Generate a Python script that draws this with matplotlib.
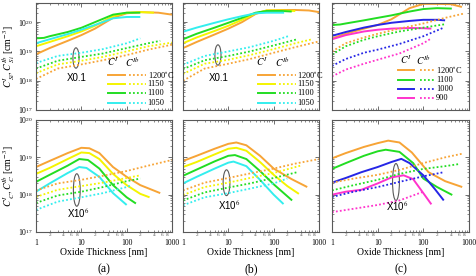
import matplotlib.pyplot as plt
import numpy as np
from matplotlib.patches import Ellipse
from matplotlib.ticker import LogLocator, NullFormatter, FuncFormatter

plt.rcParams['font.family'] = ['Liberation Serif', 'DejaVu Serif']
plt.rcParams['mathtext.fontset'] = 'stix'

ORANGE = '#f7a436'
YELLOW = '#f4f400'
GREEN = '#22dd22'
CYAN = '#33eeee'
BLUE = '#2626e6'
MAGENTA = '#ff33cc'

# ---- top row: C^I_Si (solid) and C^Ib_Si x0.1 (dotted) ----
a_top_labels = ['1200$^{\\circ}$C', '1150', '1100', '1050']
a_top_colors = [ORANGE, YELLOW, GREEN, CYAN]
a_top_I_x = [
    [1, 2, 5, 10, 20, 50, 100, 200, 500, 1000],
    [1, 2, 5, 10, 20, 50, 100, 200, 400],
    [1, 1.5, 2, 5, 10, 20, 50, 100, 200],
    [1, 2, 5, 10, 20, 50, 100, 200],
]
a_top_I_y = [
    [8e18, 1.3e19, 2.3e19, 3.6e19, 6e19, 1.4e20, 2.0e20, 2.2e20, 2.1e20, 1.8e20],
    [1.5e19, 2.1e19, 3.3e19, 4.8e19, 7.5e19, 1.6e20, 2.1e20, 2.2e20, 2.1e20],
    [2.8e19, 2.9e19, 3.3e19, 4.6e19, 6.4e19, 1.0e20, 1.8e20, 2.1e20, 2.1e20],
    [1.9e19, 2.6e19, 3.9e19, 5.5e19, 8e19, 1.35e20, 1.5e20, 1.5e20],
]
a_top_Ib_x = [
    [1, 3, 10, 30, 100, 300, 1000],
    [1, 3, 10, 30, 100, 300, 1000],
    [1, 3, 10, 30, 100, 300, 550],
    [1, 3, 10, 30, 100, 200],
]
a_top_Ib_y = [
    [1.15e18, 2.6e18, 3.6e18, 5e18, 7.5e18, 1.15e19, 1.7e19],
    [1.8e18, 3.6e18, 4.8e18, 6.5e18, 1e19, 1.5e19, 2e19],
    [2.6e18, 4.8e18, 6.5e18, 8.5e18, 1.3e19, 1.9e19, 2.3e19],
    [4e18, 7e18, 9e18, 1.2e19, 1.9e19, 2.8e19],
]

b_top_labels = ['1200$^{\\circ}$C', '1150', '1100', '1050']
b_top_colors = [ORANGE, YELLOW, GREEN, CYAN]
b_top_I_x = [
    [1, 2, 5, 10, 20, 40, 70, 150, 300, 600, 1000],
    [1, 2, 5, 10, 20, 40, 70, 150, 300],
    [1, 2, 5, 10, 20, 40, 70, 150, 250],
    [1, 2, 5, 10, 20, 40, 70, 170],
]
b_top_I_y = [
    [1.3e19, 2.1e19, 3.8e19, 6e19, 1.0e20, 1.9e20, 2.5e20, 2.6e20, 2.6e20, 2.5e20, 2.2e20],
    [1.9e19, 3e19, 5e19, 7.5e19, 1.2e20, 2.0e20, 2.5e20, 2.5e20, 2.4e20],
    [2.6e19, 4e19, 6.5e19, 9.5e19, 1.4e20, 2.1e20, 2.4e20, 2.4e20, 2.3e20],
    [4.7e19, 6.5e19, 9.5e19, 1.25e20, 1.6e20, 2.0e20, 2.1e20, 2.1e20],
]
b_top_Ib_x = [
    [1, 3, 10, 30, 100, 300, 1000],
    [1, 3, 10, 30, 100, 300, 700],
    [1, 3, 10, 30, 100, 330],
    [1, 3, 10, 30, 100, 220],
]
b_top_Ib_y = [
    [1e18, 2.6e18, 3.8e18, 5.5e18, 9e18, 1.4e19, 2.2e19],
    [1.7e18, 3.8e18, 5.2e18, 7.5e18, 1.2e19, 1.9e19, 2.6e19],
    [2.5e18, 5e18, 7e18, 1e19, 1.6e19, 2.6e19],
    [3.5e18, 7e18, 1e19, 1.4e19, 2.3e19, 3.4e19],
]

c_top_labels = ['1200$^{\\circ}$C', '1100', '1000', '900']
c_top_colors = [ORANGE, GREEN, BLUE, MAGENTA]
c_top_I_x = [
    [1, 2, 5, 10, 20, 50, 100, 200, 400, 700],
    [1, 1.5, 2, 5, 10, 20, 50, 100, 200, 420],
    [1, 2, 5, 10, 20, 50, 100, 200, 300],
    [1, 2, 5, 10, 20, 50, 100, 150],
]
c_top_I_y = [
    [2.8e19, 4e19, 6e19, 8e19, 1.25e20, 3.0e20, 4.2e20, 4.2e20, 4.1e20, 3.3e20],
    [8e19, 8.3e19, 9e19, 1.15e20, 1.4e20, 1.7e20, 2.3e20, 2.8e20, 3.0e20, 2.9e20],
    [3.4e19, 4.6e19, 6.5e19, 8e19, 9.5e19, 1.1e20, 1.2e20, 1.2e20, 1.15e20],
    [2.6e19, 3.6e19, 4.8e19, 5.5e19, 6e19, 6.3e19, 6.2e19, 6e19],
]
c_top_Ib_x = [
    [1, 2, 5, 10, 30, 100, 300, 760],
    [1, 2, 5, 10, 30, 100, 300],
    [1, 2, 5, 10, 30, 100, 280],
    [1, 2, 5, 10, 30, 100, 150],
]
c_top_Ib_y = [
    [1e19, 1.9e19, 3e19, 4e19, 6e19, 9e19, 1.4e20, 1.95e20],
    [7.8e18, 1.5e19, 2.5e19, 3.3e19, 4.8e19, 6.5e19, 8.5e19],
    [3.2e18, 5.5e18, 9e18, 1.15e19, 1.8e19, 3.3e19, 6.5e19],
    [1.4e18, 2.4e18, 3.8e18, 5.2e18, 8.5e18, 1.9e19, 2.8e19],
]

# ---- bottom row: C^I_C (solid) and C^Ib_C x10^6 (dotted) ----
a_bot_I_x = [
    [1, 2, 5, 10, 15, 25, 50, 100, 200, 550],
    [1, 2, 5, 10, 15, 25, 50, 100, 200, 320],
    [1, 2, 5, 9, 14, 25, 50, 100, 160],
    [1, 2, 5, 9, 13, 25, 50, 100],
]
a_bot_I_y = [
    [5.5e18, 8e18, 1.3e19, 1.8e19, 1.75e19, 1.3e19, 5.5e18, 3e18, 1.8e18, 1.1e18],
    [3.6e18, 5.2e18, 9e18, 1.35e19, 1.3e19, 9e18, 3.6e18, 1.8e18, 1.05e18, 8.5e17],
    [2.2e18, 3.4e18, 6e18, 9e18, 8.5e18, 5e18, 1.8e18, 8.5e17, 5.8e17],
    [1.2e18, 2e18, 3.8e18, 5.5e18, 5.2e18, 3e18, 1.1e18, 5.3e17],
]
a_bot_Ib_x = [
    [1, 3, 10, 30, 100, 300, 1000],
    [1, 3, 10, 30, 100, 200],
    [1, 3, 10, 30, 100, 200],
    [1, 3, 10, 30, 100, 130],
]
a_bot_Ib_y = [
    [1.3e18, 2e18, 2.5e18, 3.2e18, 4.3e18, 6e18, 8.5e18],
    [8.7e17, 1.35e18, 1.7e18, 2.1e18, 2.8e18, 3.3e18],
    [6e17, 9.5e17, 1.2e18, 1.6e18, 2.3e18, 2.7e18],
    [3.9e17, 6.5e17, 8.5e17, 1.1e18, 1.6e18, 1.8e18],
]

b_bot_I_x = [
    [1, 2, 5, 10, 15, 25, 50, 100, 250, 550],
    [1, 2, 5, 10, 15, 25, 50, 100, 200, 360],
    [1, 2, 5, 10, 14, 25, 50, 100, 255],
    [1, 2, 5, 10, 13, 25, 50, 100, 165],
]
b_bot_I_y = [
    [8e18, 1.1e19, 1.7e19, 2.3e19, 2.5e19, 2.1e19, 1.1e19, 5e18, 2.6e18, 1.6e18],
    [5.5e18, 7.5e18, 1.2e19, 1.7e19, 1.8e19, 1.5e19, 7.5e18, 3.4e18, 1.7e18, 1.05e18],
    [3.2e18, 4.7e18, 7.8e18, 1.1e19, 1.15e19, 9e18, 4.3e18, 1.9e18, 7e17],
    [2e18, 3e18, 5e18, 7.2e18, 7.7e18, 5.8e18, 2.5e18, 1e18, 5.6e17],
]
b_bot_Ib_x = [
    [1, 3, 10, 30, 100, 300, 1000],
    [1, 3, 10, 30, 100, 390],
    [1, 3, 10, 30, 100, 330],
    [1, 3, 10, 30, 100, 200],
]
b_bot_Ib_y = [
    [1.3e18, 2.1e18, 2.8e18, 3.7e18, 5e18, 6.8e18, 9e18],
    [9.8e17, 1.6e18, 2.1e18, 2.8e18, 3.8e18, 6e18],
    [7e17, 1.15e18, 1.55e18, 2e18, 2.8e18, 4e18],
    [5.2e17, 8.5e17, 1.1e18, 1.45e18, 2e18, 2.7e18],
]

c_bot_I_x = [
    [1, 2, 5, 10, 17, 30, 56, 130, 300, 710],
    [1, 2, 5, 10, 15, 30, 60, 100, 200, 430],
    [1, 2, 4.4, 10, 20, 33, 50, 100, 180, 280],
    [1, 2, 4.4, 10, 20, 37, 60, 100, 150],
]
c_bot_I_y = [
    [9.4e18, 1.3e19, 1.9e19, 2.4e19, 2.8e19, 2.5e19, 1.35e19, 4e18, 2.3e18, 1.6e18],
    [4.9e18, 7e18, 1.1e19, 1.45e19, 1.6e19, 1.4e19, 7e18, 2.7e18, 1.6e18, 9.8e17],
    [2.1e18, 2.8e18, 4e18, 5.5e18, 7.5e18, 9.1e18, 7e18, 3.3e18, 1.4e18, 7e17],
    [1e18, 1.2e18, 1.35e18, 2e18, 2.9e18, 3.3e18, 2.6e18, 1.1e18, 5.5e17],
]
c_bot_Ib_x = [
    [1, 3, 10, 30, 100, 300, 710],
    [1, 3, 10, 30, 100, 300, 600],
    [1, 3, 10, 30, 100, 280],
    [1, 3, 10, 30, 100],
]
c_bot_Ib_y = [
    [2.1e18, 2.7e18, 3.4e18, 4.6e18, 7e18, 1e19, 1.25e19],
    [1.3e18, 1.8e18, 2.5e18, 3.6e18, 4.9e18, 5.8e18, 6.6e18],
    [8.7e17, 1.2e18, 1.6e18, 2.2e18, 3.1e18, 4e18],
    [3.4e17, 4.2e17, 5.3e17, 7e17, 1.2e18],
]

XLIM = (1, 1000)


def minor_label(v, pos):
    d = int(round(v / 10 ** np.floor(np.log10(v) + 1e-9)))
    return str(d) if d in (2, 4, 6, 8) else ''


def style_axis(ax, bottom, ylabels):
    ax.set_xscale('log')
    ax.set_yscale('log')
    ax.set_xlim(*XLIM)
    ax.tick_params(which='both', direction='in', top=True, right=True,
                   labelsize=5.5, pad=2, color='0.35')
    ax.tick_params(which='major', length=3, width=0.6)
    ax.tick_params(which='minor', length=1.6, width=0.5)
    ax.xaxis.set_minor_locator(LogLocator(base=10, subs=np.arange(2, 10)))
    ax.yaxis.set_minor_locator(LogLocator(base=10, subs=np.arange(2, 10)))
    ax.yaxis.set_minor_formatter(NullFormatter())
    if bottom:
        ax.xaxis.set_major_formatter(FuncFormatter(lambda v, p: '%d' % round(v)))
        ax.xaxis.set_minor_formatter(FuncFormatter(minor_label))
        ax.tick_params(axis='x', which='major', pad=5)
        ax.tick_params(axis='x', which='minor', labelsize=3.8, pad=0.6,
                       labelcolor='0.3')
    else:
        ax.xaxis.set_major_formatter(NullFormatter())
        ax.xaxis.set_minor_formatter(NullFormatter())
    if not ylabels:
        ax.yaxis.set_major_formatter(NullFormatter())
    for s in ax.spines.values():
        s.set_color('0.35')
        s.set_linewidth(0.8)


def draw(ax, colors, Ix, Iy, Ibx, Iby):
    for c, x, y in zip(colors, Ix, Iy):
        ax.plot(x, y, color=c, lw=1.4, solid_capstyle='butt')
    for c, x, y in zip(colors, Ibx, Iby):
        ax.plot(x, y, color=c, lw=1.3, ls=(0, (1, 1.2)))


def legend(ax, colors, labels, xs, rows):
    for c, lab, yy in zip(colors, labels, rows):
        ax.plot([xs[0], xs[1]], [yy, yy], color=c, lw=1.4, transform=ax.transAxes, clip_on=False)
        ax.plot([xs[2], xs[3]], [yy, yy], color=c, lw=1.3, ls=(0, (1, 1.2)),
                transform=ax.transAxes, clip_on=False)
        ax.text(xs[3] + 0.01, yy, lab, transform=ax.transAxes, fontsize=6,
                va='center', ha='left', clip_on=False)


def ellipse(ax, cx, cy, w, h, txt, tx, ty):
    ax.add_patch(Ellipse((cx, cy), w, h, transform=ax.transAxes, fill=False,
                         ec='0.35', lw=0.8))
    ax.text(tx, ty, txt, transform=ax.transAxes, fontsize=7, ha='center', va='center',
            family=['Liberation Sans', 'DejaVu Sans'])


fig = plt.figure(figsize=(4.76, 2.76), dpi=100)
W, H = 476.0, 276.0
lefts = [36, 183, 332]
widths = [136, 136, 137]
top_ax = []
bot_ax = []
for i in range(3):
    top_ax.append(fig.add_axes([lefts[i] / W, (H - 110) / H, widths[i] / W, 107 / H]))
    bot_ax.append(fig.add_axes([lefts[i] / W, (H - 232) / H, widths[i] / W, 112 / H]))

# top row
draw(top_ax[0], a_top_colors, a_top_I_x, a_top_I_y, a_top_Ib_x, a_top_Ib_y)
draw(top_ax[1], b_top_colors, b_top_I_x, b_top_I_y, b_top_Ib_x, b_top_Ib_y)
draw(top_ax[2], c_top_colors, c_top_I_x, c_top_I_y, c_top_Ib_x, c_top_Ib_y)
for i, ax in enumerate(top_ax):
    ax.set_ylim(1e17, 4.5e20)
    style_axis(ax, False, i == 0)

# bottom row
draw(bot_ax[0], a_top_colors, a_bot_I_x, a_bot_I_y, a_bot_Ib_x, a_bot_Ib_y)
draw(bot_ax[1], b_top_colors, b_bot_I_x, b_bot_I_y, b_bot_Ib_x, b_bot_Ib_y)
draw(bot_ax[2], c_top_colors, c_bot_I_x, c_bot_I_y, c_bot_Ib_x, c_bot_Ib_y)
for i, ax in enumerate(bot_ax):
    ax.set_ylim(1e17, 1e20)
    style_axis(ax, True, i == 0)
    ax.set_xlabel('Oxide Thickness [nm]', fontsize=7, labelpad=1)

top_ax[0].set_ylabel('$C^{I}_{\\ Si}, C^{Ib}_{\\ Si}$ [cm$^{-3}$]', fontsize=7, labelpad=1)
bot_ax[0].set_ylabel('$C^{I}_{\\ C}, C^{Ib}_{\\ C}$ [cm$^{-3}$]', fontsize=7, labelpad=1)

# legends
rows_ab = [0.327, 0.243, 0.159, 0.068]
legend(top_ax[0], a_top_colors, a_top_labels, [0.53, 0.655, 0.685, 0.81], rows_ab)
legend(top_ax[1], b_top_colors, b_top_labels, [0.55, 0.675, 0.705, 0.83], rows_ab)
legend(top_ax[2], c_top_colors, c_top_labels, [0.48, 0.595, 0.64, 0.75],
       [0.374, 0.28, 0.196, 0.112])
for ax, (x1, x2, yy) in zip(top_ax, [(0.57, 0.71, 0.45), (0.58, 0.73, 0.45), (0.54, 0.67, 0.47)]):
    ax.text(x1, yy, '$C^{I}$', transform=ax.transAxes, fontsize=7, ha='center', va='center')
    ax.text(x2, yy, '$C^{Ib}$', transform=ax.transAxes, fontsize=7, ha='center', va='center')

# ellipses with scale factors
ellipse(top_ax[0], 0.294, 0.486, 0.045, 0.19, 'X0.1', 0.30, 0.30)
ellipse(top_ax[1], 0.257, 0.514, 0.045, 0.19, 'X0.1', 0.26, 0.30)
ellipse(bot_ax[0], 0.30, 0.375, 0.05, 0.29, 'X10$^6$', 0.31, 0.17)
ellipse(bot_ax[1], 0.32, 0.44, 0.05, 0.23, 'X10$^6$', 0.34, 0.24)
ellipse(bot_ax[2], 0.467, 0.446, 0.05, 0.33, 'X10$^6$', 0.48, 0.23)

for ax, lab in zip(bot_ax, ['(a)', '(b)', '(c)']):
    ax.text(0.5, -0.33, lab, transform=ax.transAxes, fontsize=8.5, ha='center', va='center')

fig.savefig('out.png', dpi=100)
